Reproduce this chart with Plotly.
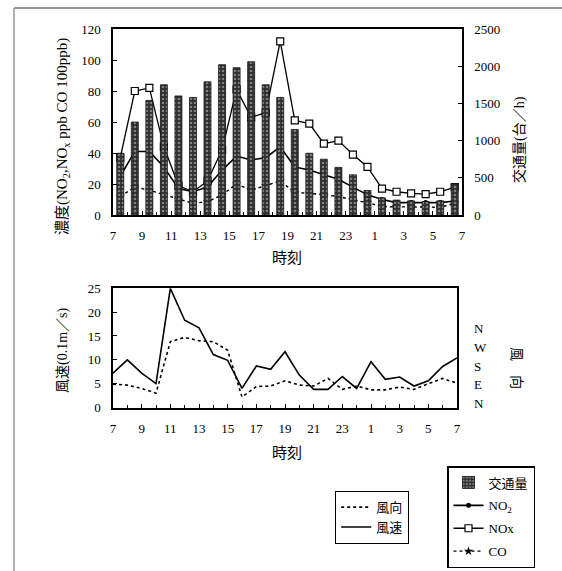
import plotly.graph_objects as go

W, H = 562, 571

# ---------------- data ----------------
slot_hours = [7, 8, 9, 10, 11, 12, 13, 14, 15, 16, 17, 18, 19, 20, 21, 22, 23, 0, 1, 2, 3, 4, 5, 6]
traffic = [830, 1250, 1540, 1750, 1600, 1580, 1790, 2020, 1980, 2060, 1750, 1580,
           1150, 830, 750, 640, 540, 330, 230, 200, 190, 180, 190, 420]
nox = [37, 80, 82, 44, 19, 15, 22, 42, 81, 63, 66, 112, 61, 59, 46, 48, 39, 31, 17, 15, 14, 13.5, 15, 18]
no2 = [25, 41, 41, 31, 17, 15, 18, 29, 38, 35.5, 37, 44, 31, 29, 26, 23, 18, 13, 10, 8, 8, 8, 8, 9]
co = [12, 18, 16, 13, 10, 7.5, 8.6, 13, 20, 16, 19, 22, 14.5, 14, 13, 12, 9.7, 8, 5.4, 5.4, 5, 5, 5, 7.5]

wind_hours = [7, 8, 9, 10, 11, 12, 13, 14, 15, 16, 17, 18, 19, 20, 21, 22, 23, 0, 1, 2, 3, 4, 5, 6, 7]
wind_speed = [7.2, 10, 7.2, 5, 25, 18.3, 16.7, 11.1, 9.9, 4, 8.7, 8, 11.7, 6.8, 3.8, 3.8, 6.5,
              4, 9.6, 5.9, 6.4, 4.5, 5.6, 8.6, 10.4]
wind_dir = [4.9, 4.7, 4.0, 3.0, 13.8, 14.7, 14.0, 13.8, 12.0, 2.2, 4.4, 4.5, 5.6, 4.7, 4.5, 6.1, 3.8,
            4.5, 3.7, 3.7, 4.3, 3.8, 5.0, 6.1, 5.1]

x_tick_labels = ["7", "9", "11", "13", "15", "17", "19", "21", "23", "1", "3", "5", "7"]
dir_tick_labels = ["N", "E", "S", "W", "N"]
dir_tick_vals = [0.9, 4.8, 8.7, 12.7, 16.6]

FONT = "Liberation Serif, Noto Sans CJK JP"
x_slot = [i + 0.5 for i in range(len(slot_hours))]
x_wind = list(range(len(wind_hours)))

fig = go.Figure()

fig.add_trace(go.Bar(
    x=x_slot, y=traffic, yaxis="y2", xaxis="x", width=0.48, name="交通量",
    marker=dict(color="#2e2e2e", line=dict(color="#111", width=0.8),
                pattern=dict(shape=".", fgcolor="#cfcfcf", size=4, solidity=0.35)),
    legend="legend2", legendgroup="a",
))
fig.add_trace(go.Scatter(
    x=x_slot, y=no2, xaxis="x", yaxis="y", mode="lines+markers", name="NO<sub>2</sub>",
    line=dict(color="black", width=1.6),
    marker=dict(symbol="circle", size=5, color="black"),
    legend="legend2", legendgroup="b",
))
fig.add_trace(go.Scatter(
    x=x_slot, y=nox, xaxis="x", yaxis="y", mode="lines+markers", name="NOx",
    line=dict(color="black", width=1.3),
    marker=dict(symbol="square", size=7, color="white", line=dict(color="black", width=1.2)),
    legend="legend2", legendgroup="c",
))
fig.add_trace(go.Scatter(
    x=x_slot, y=co, xaxis="x", yaxis="y", mode="lines+markers", name="CO",
    line=dict(color="black", width=1.4, dash="dot"),
    marker=dict(symbol="star", size=7, color="black"),
    legend="legend2", legendgroup="d",
))

fig.add_trace(go.Scatter(
    x=x_wind, y=wind_dir, xaxis="x3", yaxis="y3", mode="lines", name="風向",
    line=dict(color="black", width=1.6, dash="dot"), legend="legend",
))
fig.add_trace(go.Scatter(
    x=x_wind, y=wind_speed, xaxis="x3", yaxis="y3", mode="lines", name="風速",
    line=dict(color="black", width=1.6), legend="legend",
))
# invisible carrier so the compass-direction axis is drawn
fig.add_trace(go.Scatter(
    x=x_wind, y=wind_dir, xaxis="x3", yaxis="y4", mode="lines", showlegend=False,
    line=dict(color="rgba(0,0,0,0)", width=0), hoverinfo="skip",
))

def px_x(p):
    return p / W

def px_y(p):
    return 1 - p / H

axis_common = dict(showline=True, linecolor="black", linewidth=1.5, ticks="inside",
                   tickcolor="black", showgrid=False, zeroline=False, automargin=False,
                   tickfont=dict(family=FONT, size=13, color="black"))

fig.update_layout(
    width=W, height=H, margin=dict(l=0, r=0, t=0, b=0),
    paper_bgcolor="white", plot_bgcolor="white",
    font=dict(family=FONT, color="black", size=13),
    barmode="overlay",
    xaxis=dict(domain=[px_x(113), px_x(462)], range=[0, 24], anchor="y",
               tickvals=list(range(0, 25, 2)), ticktext=x_tick_labels, ticklen=4,
               ticklabelstandoff=8, mirror=True,
               minor=dict(ticks="inside", dtick=1, ticklen=3, tickcolor="black"),
               **axis_common),
    yaxis=dict(domain=[px_y(215), px_y(29)], range=[0, 120], anchor="x", dtick=20,
               ticklen=4, ticklabelstandoff=8, mirror=True, **axis_common),
    yaxis2=dict(overlaying="y", side="right", anchor="x", range=[0, 2500], dtick=500,
                ticklen=4, ticklabelstandoff=8, **axis_common),
    xaxis3=dict(domain=[px_x(113), px_x(457)], range=[0, 24], anchor="y3",
                tickvals=list(range(0, 25, 2)), ticktext=x_tick_labels, ticklen=4,
                ticklabelstandoff=8, mirror=True,
                minor=dict(ticks="inside", dtick=1, ticklen=3, tickcolor="black"),
                **axis_common),
    yaxis3=dict(domain=[px_y(407.5), px_y(288.3)], range=[0, 25], anchor="x3", dtick=5,
                ticklen=4, ticklabelstandoff=8, mirror=True, **axis_common),
    yaxis4=dict(overlaying="y3", side="right", anchor="x3", range=[0, 25],
                tickmode="array", tickvals=dir_tick_vals, ticktext=dir_tick_labels,
                showline=False, showticklabels=True, visible=True,
                ticks="", showgrid=False, zeroline=False, automargin=False,
                ticklabelstandoff=16, tickfont=dict(family=FONT, size=13, color="black")),
    legend=dict(x=px_x(335), y=px_y(491), xanchor="left", yanchor="top",
                bordercolor="black", borderwidth=1.2, bgcolor="white",
                font=dict(family=FONT, size=13), tracegroupgap=0),
    legend2=dict(x=px_x(447), y=px_y(466), xanchor="left", yanchor="top",
                 bordercolor="black", borderwidth=1.5, bgcolor="white",
                 font=dict(family=FONT, size=13), tracegroupgap=3),
    showlegend=True,
)

ann = [
    dict(text="濃度(NO<sub>2</sub>,NO<sub>x</sub> ppb CO 100ppb)", x=px_x(63), y=px_y(137),
         textangle=-90, font=dict(size=15)),
    dict(text="交通量(台／h)", x=px_x(520), y=px_y(140), textangle=-90, font=dict(size=14)),
    dict(text="時刻", x=px_x(287), y=px_y(258), font=dict(size=15)),
    dict(text="風速(0.1m／s)", x=px_x(63), y=px_y(350), textangle=-90, font=dict(size=14)),
    dict(text="風　向", x=px_x(517), y=px_y(368), textangle=90, font=dict(size=14)),
    dict(text="時刻", x=px_x(287), y=px_y(453), font=dict(size=15)),
]
for a in ann:
    a.update(xref="paper", yref="paper", showarrow=False, xanchor="center", yanchor="middle")
    a["font"]["family"] = FONT
    a["font"]["color"] = "black"
fig.update_layout(annotations=ann)

fig.add_shape(type="line", xref="paper", yref="paper", x0=px_x(14), x1=1, y0=px_y(8), y1=px_y(8),
              line=dict(color="#777", width=1.5))
fig.add_shape(type="line", xref="paper", yref="paper", x0=px_x(14), x1=px_x(14), y0=0, y1=px_y(8),
              line=dict(color="#999", width=1.5))

fig.write_html("out.html")
